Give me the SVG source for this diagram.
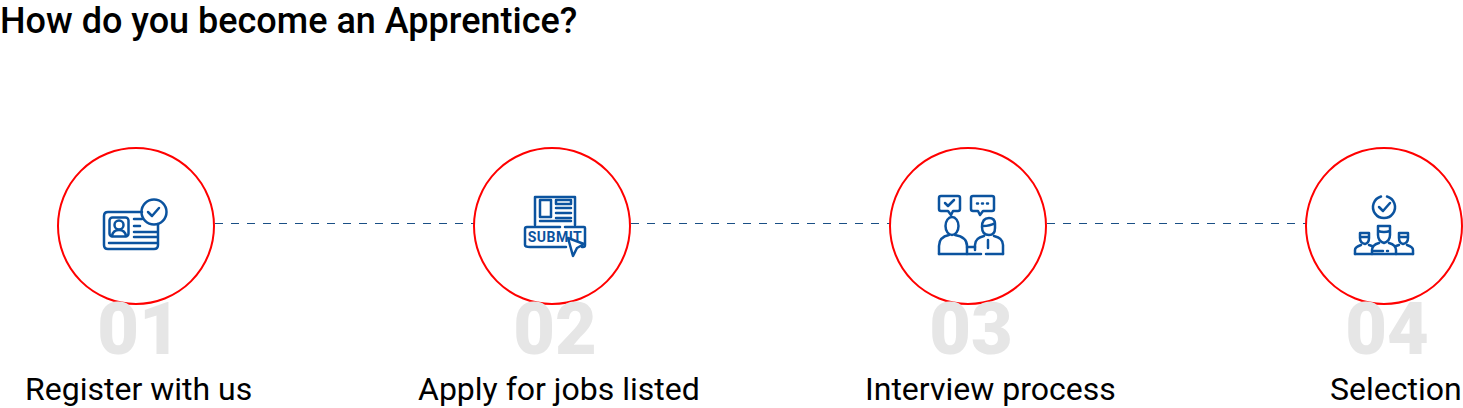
<svg xmlns="http://www.w3.org/2000/svg" width="1463" height="408" viewBox="0 0 1463 408">
<style>
.t{font-family:Roboto,"Liberation Sans",sans-serif;fill:#000}
.title{font-size:36px;font-weight:500}
.lab{font-size:32px}
.num{font-family:Roboto,"Liberation Sans",sans-serif;font-size:72px;font-weight:900;fill:#e6e6e6}
.c{fill:#fff;stroke:#f00;stroke-width:2}
.i{fill:none;stroke:#0b539f;stroke-width:2.500;stroke-linecap:round;stroke-linejoin:round}
.d{fill:none;stroke:#1a4f85;stroke-width:1;stroke-dasharray:8 8}
</style>
<text class="t title" x="0" y="33">How do you become an Apprentice?</text>
<g id="connectors">
<path class="d" d="M215 223.500H474"/>
<path class="d" d="M631 223.500H890"/>
<path class="d" d="M1047 223.500H1306"/>
</g>
<g id="node-1">
<circle class="c" cx="136" cy="226" r="78"/>
<text class="num" x="139" y="354" text-anchor="middle">01</text>
<path class="i" d="M142 212H108Q104 212 104 216V245Q104 249 108 249H154Q158 249 158 245V224"/>
<circle class="i" cx="154" cy="212" r="12.500"/>
<path class="i" d="M148 212l4 4 7-8"/>
<rect class="i" x="109.500" y="217.500" width="19" height="19" rx="3"/>
<circle class="i" cx="119" cy="225" r="4.500"/>
<path class="i" d="M112 236q1-6 7-6t7 6"/>
<path class="i" d="M134 219h8M134 232h23M134 237h23M134 226h6M109 243h48"/>
<text class="t lab" x="25" y="400">Register with us</text>
</g>
<g id="node-2">
<circle class="c" cx="552" cy="226" r="78"/>
<text class="num" x="555" y="354" text-anchor="middle">02</text>
<path class="i" d="M535 225V197H575V225"/>
<rect class="i" x="540" y="200" width="11" height="17"/>
<rect class="i" x="556" y="200" width="15" height="4"/>
<path class="i" d="M556 208h15M556 213h15M556 218h15M540 221h31"/>
<path class="i" d="M565 227H584Q585 227 585 228V245Q585 247 583 247H582M566 247H530Q525 247 525 245V229Q525 227 527 227H560"/>
<text x="555" y="242" text-anchor="middle" font-family="Roboto,'Liberation Sans',sans-serif" font-size="14" font-weight="700" letter-spacing=".5" fill="#0b539f">SUBMIT</text>
<path class="i" d="M568 238L584 244 577 248 573 256Z" style="fill:#fff"/>
<text class="t lab" x="418" y="400">Apply for jobs listed</text>
</g>
<g id="node-3">
<circle class="c" cx="968" cy="226" r="78"/>
<text class="num" x="971" y="354" text-anchor="middle">03</text>
<path class="i" d="M941 196H958Q960 196 960 198V209Q960 211 958 211H953L951 215 948 211H941Q939 211 939 209V198Q939 196 941 196Z"/>
<path class="i" d="M945 203l3 3 6-6"/>
<path class="i" d="M973 196H992Q994 196 994 198V209Q994 211 992 211H983L980 215 978 211H973Q971 211 971 209V198Q971 196 973 196Z"/>
<path class="i" d="M977 203.500h1M982 203.500h1M987 203.500h1"/>
<ellipse class="i" cx="952" cy="226" rx="6.500" ry="9"/>
<path class="i" d="M939 254V246Q939 237 949 235M955 235Q967 237 967 246V254"/>
<path class="i" d="M982 227Q982 218 989 218 995 218 995 224V228Q995 235 989 235 982 235 982 227ZM983 226Q990 226 995 223"/>
<path class="i" d="M975 250V245Q975 238 984 236M994 236Q1003 238 1003 245V254M988 240V248"/>
<path class="i" d="M939 254H981M986 254H1003M967 247H975"/>
<text class="t lab" x="865" y="400">Interview process</text>
</g>
<g id="node-4">
<circle class="c" cx="1384" cy="226" r="78"/>
<text class="num" x="1387" y="354" text-anchor="middle">04</text>
<path class="i" d="M1387 196.500A11 11 0 1 1 1381 196.500"/>
<path class="i" d="M1379 207l4 4 7-8"/>
<path class="i" d="M1378 226H1390V235Q1390 241 1384 243 1378 241 1378 235ZM1378 231Q1384 233 1390 231"/>
<path class="i" d="M1372 254V250Q1372 245 1379 243M1389 243Q1396 245 1396 250V254M1374 251H1383M1387 251H1388"/>
<path class="i" d="M1360 233H1369V238Q1369 243 1365 244 1360 243 1360 238ZM1360 237H1369"/>
<path class="i" d="M1355 254V250Q1355 247 1361 245M1369 245L1372 246"/>
<path class="i" d="M1399 233H1408V238Q1408 243 1403 244 1399 243 1399 238ZM1399 237H1408"/>
<path class="i" d="M1413 254V250Q1413 247 1407 245M1399 245L1396 246"/>
<path class="i" d="M1355 254H1413"/>
<text class="t lab" x="1330" y="400">Selection</text>
</g>
</svg>
